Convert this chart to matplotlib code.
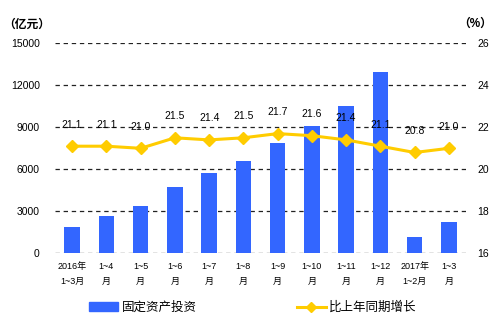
import matplotlib
matplotlib.use("Agg")
import matplotlib.pyplot as plt
from matplotlib.lines import Line2D
from matplotlib.patches import Patch

plt.rcParams['font.family'] = ['Liberation Sans', 'Noto Sans CJK SC']

# data
periods = ["2016年\n1~3月", "1~4\n月", "1~5\n月", "1~6\n月", "1~7\n月", "1~8\n月",
           "1~9\n月", "1~10\n月", "1~11\n月", "1~12\n月", "2017年\n1~2月", "1~3\n月"]
investment = [1880, 2660, 3380, 4740, 5740, 6590, 7880, 9090, 10520, 12950, 1160, 2240]
growth = [21.1, 21.1, 21.0, 21.5, 21.4, 21.5, 21.7, 21.6, 21.4, 21.1, 20.8, 21.0]
left_ticks = [0, 3000, 6000, 9000, 12000, 15000]
right_ticks = [16, 18, 20, 22, 24, 26]

bar_color = '#3366FF'
line_color = '#FFCC00'

fig = plt.figure(figsize=(5.04, 3.26), dpi=100)
ax = fig.add_axes([55/504, 1-253.3/326, 411/504, 210/326])
x = list(range(len(periods)))

ax.bar(x, investment, width=0.45, color=bar_color, zorder=2)
ax.set_xlim(-0.5, len(periods)-0.5)
ax.set_ylim(0, 15000)
ax.set_yticks(left_ticks)
ax.set_yticklabels([str(v) for v in left_ticks], fontsize=7.5)
ax.set_xticks(x)
ax.set_xticklabels(periods, fontsize=6.5, linespacing=1.9)
ax.tick_params(axis='both', length=0)
ax.tick_params(axis='x', pad=6)
ax.tick_params(axis='y', pad=11)
for v in left_ticks:
    ax.axhline(v, color='#222222', lw=0.9, ls=(0, (3.5, 3)), zorder=1)
for s in ax.spines.values():
    s.set_visible(False)

ax2 = ax.twinx()
ax2.set_ylim(16, 26)
ax2.set_yticks(right_ticks)
ax2.set_yticklabels([str(v) for v in right_ticks], fontsize=7.5)
ax2.tick_params(axis='y', length=0, pad=8)
for s in ax2.spines.values():
    s.set_visible(False)
ax2.plot(x, growth, color=line_color, lw=2.2, marker='D', markersize=6,
         zorder=3)
for xi, g in zip(x, growth):
    ax2.annotate(f"{g:.1f}", (xi, g), xytext=(0, 12), textcoords='offset points',
                 ha='center', va='bottom', fontsize=7.5)

fig.text(3/504, 1-25/326, "（亿元）", fontsize=8.5, ha='left', va='center',
         fontweight='bold')
fig.text(458/504, 1-24/326, "（%）", fontsize=8.5, ha='left', va='center',
         fontweight='bold')

handles = [Patch(color=bar_color),
           Line2D([0], [0], color=line_color, lw=2.2, marker='D', markersize=5)]
fig.legend(handles, ["固定资产投资", "比上年同期增长"], loc='center',
           bbox_to_anchor=(253/504, 1-308/326), ncol=2, frameon=False,
           fontsize=9, handlelength=2.3, handleheight=0.7,
           columnspacing=8, handletextpad=0.3)

fig.savefig("out.png", dpi=100)
